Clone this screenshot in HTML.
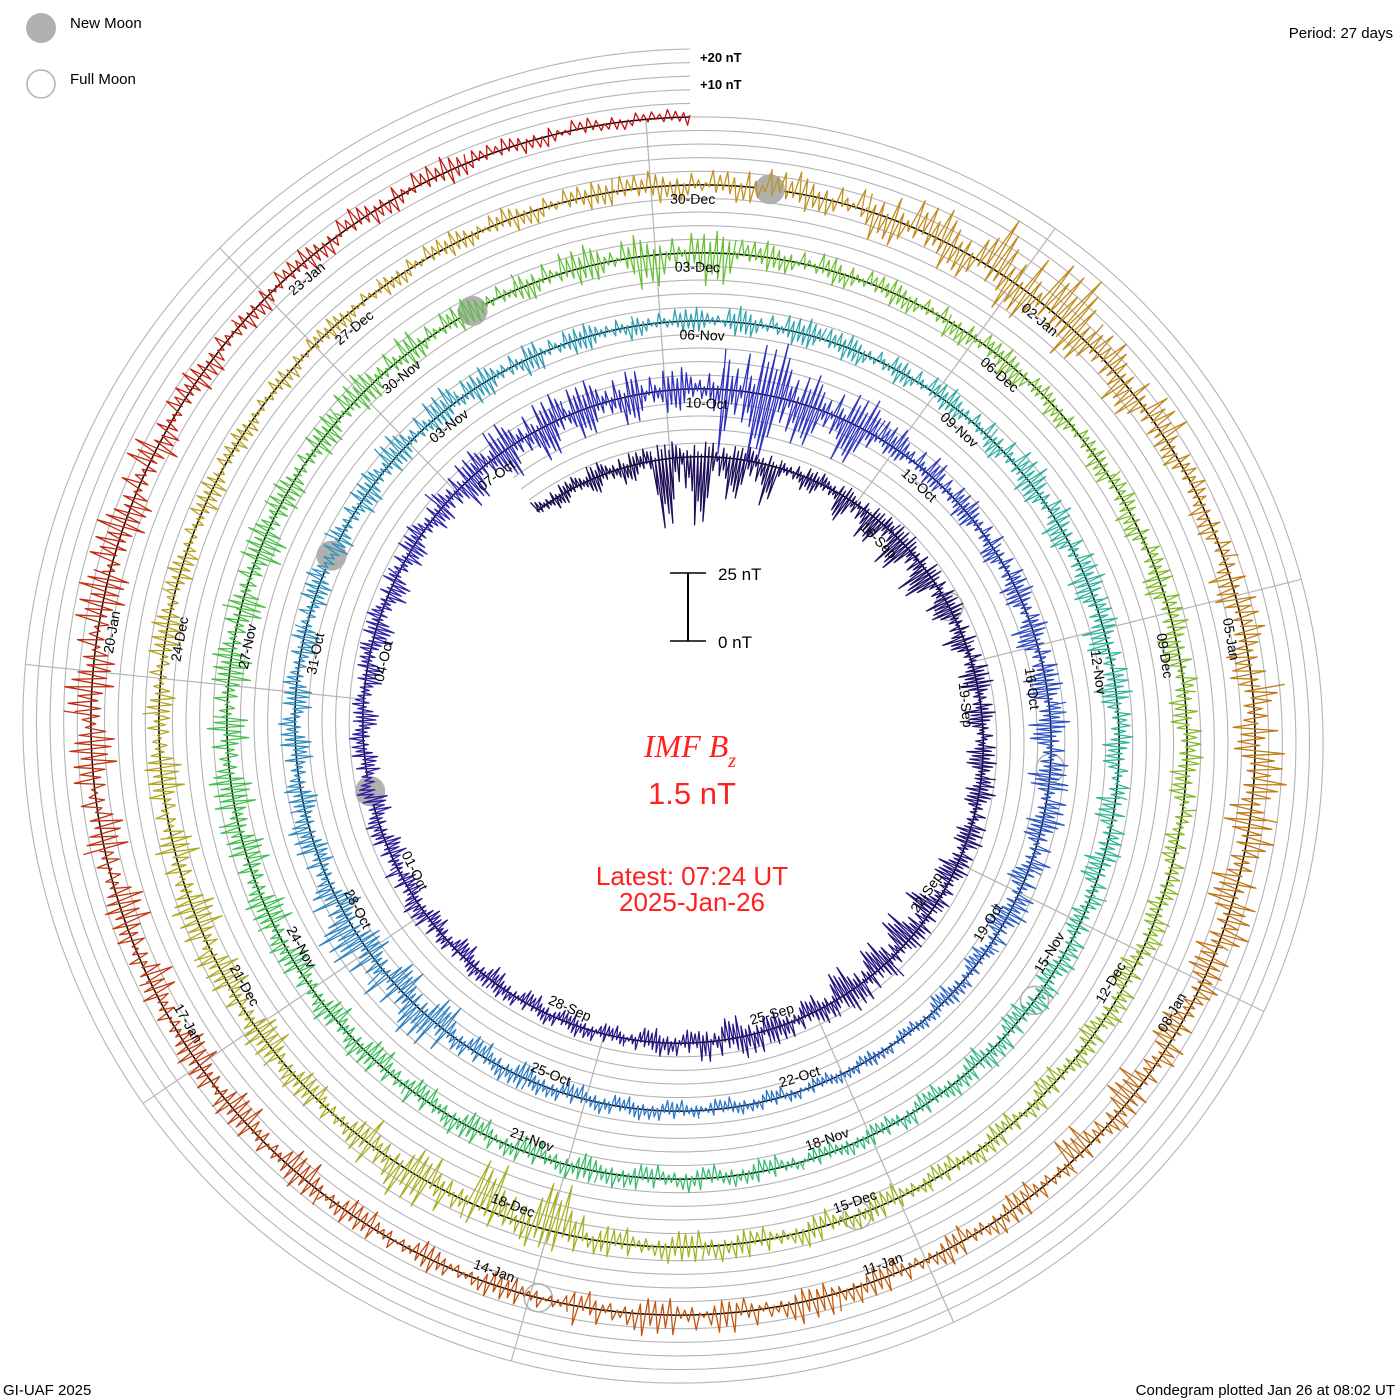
<!DOCTYPE html>
<html><head><meta charset="utf-8"><style>
html,body{margin:0;padding:0;background:#fff;}
svg{display:block;font-family:"Liberation Sans",sans-serif;}
</style></head><body>
<svg id="chart" width="1400" height="1400" viewBox="0 0 1400 1400" xmlns="http://www.w3.org/2000/svg">
<rect width="1400" height="1400" fill="#fff"/>
<g id="grid"></g>
<g id="radials"></g>
<g id="baseline"></g>
<g id="moons"></g>
<g id="traces"></g>
<g id="labels"></g>
<g>
<circle cx="41" cy="28" r="15" fill="#b0b0b0"/>
<text x="70" y="28" font-size="15" fill="#000">New Moon</text>
<circle cx="41" cy="84" r="14" fill="none" stroke="#b0b0b0" stroke-width="1.5"/>
<text x="70" y="84" font-size="15" fill="#000">Full Moon</text>
</g>
<text x="1393" y="38" font-size="15" text-anchor="end">Period: 27 days</text>
<text x="700" y="62" font-size="13" font-weight="bold">+20 nT</text>
<text x="700" y="89" font-size="13" font-weight="bold">+10 nT</text>
<g>
<line x1="688" y1="573" x2="688" y2="641" stroke="#000" stroke-width="2"/>
<line x1="670" y1="573" x2="706" y2="573" stroke="#000" stroke-width="1.5"/>
<line x1="670" y1="641" x2="706" y2="641" stroke="#000" stroke-width="1.5"/>
<text x="718" y="580" font-size="17">25 nT</text>
<text x="718" y="648" font-size="17">0 nT</text>
</g>
<text x="690" y="757" font-size="32" font-style="italic" font-family="Liberation Serif, serif" fill="#ff2020" text-anchor="middle">IMF B<tspan font-size="20" dy="10">z</tspan></text>
<text x="692" y="804" font-size="31" fill="#ff2020" text-anchor="middle">1.5 nT</text>
<text x="692" y="885" font-size="26" fill="#ff2020" text-anchor="middle">Latest: 07:24 UT</text>
<text x="692" y="911" font-size="26" fill="#ff2020" text-anchor="middle">2025-Jan-26</text>
<text x="3" y="1395" font-size="15">GI-UAF 2025</text>
<text x="1395" y="1395" font-size="15" text-anchor="end">Condegram plotted Jan 26 at 08:02 UT</text>
</svg>
<script>
// Daily Bz range (nT), one entry per day from start (~Sep 10 17 UT)
const dayLo = [-4,-6,-25,-15,-5,-10,-12,-8,-6,-6,-5,-7,-12,-10,-6,-8,-5,-4,-5,-6,-5,-6,-5,-6,-7,-6,-10,-12,-10,-8,-25,-15,-4,-5,-6,-8,-8,-6,-7,-5,-3,-3,-4,-4,-5,-6,-10,-8,-5,-6,-6,-5,-6,-5,-6,-5,-4,-5,-5,-4,-6,-7,-8,-6,-7,-5,-6,-5,-4,-5,-5,-6,-6,-7,-6,-8,-8,-8,-9,-6,-6,-5,-6,-12,-5,-5,-6,-5,-6,-7,-6,-5,-6,-6,-5,-6,-5,-6,-18,-10,-6,-8,-9,-8,-6,-5,-4,-4,-4,-5,-6,-6,-10,-12,-10,-6,-8,-8,-10,-8,-10,-6,-5,-5,-6,-5,-6,-8,-8,-10,-9,-8,-8,-6,-5,-5,-4,-3];
const dayHi = [4,5,6,5,4,4,5,5,6,5,6,5,5,8,6,8,5,4,4,4,6,5,5,4,5,6,8,10,10,8,20,12,8,6,6,6,7,8,7,4,3,3,3,4,4,5,12,14,8,6,5,6,6,8,6,5,5,6,5,6,8,7,6,5,6,6,6,5,4,4,5,5,6,6,6,7,8,7,7,6,8,6,8,8,6,5,5,4,5,6,6,5,6,5,5,5,6,6,8,12,6,7,8,6,6,5,4,4,5,5,6,8,12,20,10,5,8,12,10,7,6,6,6,8,8,5,5,6,6,6,8,10,10,6,5,6,4,3];
const newMoons = ["2024-10-02T18:49Z","2024-11-01T12:47Z","2024-12-01T06:21Z","2024-12-30T22:27Z"];
const fullMoons = ["2024-09-18T02:34Z","2024-10-17T11:26Z","2024-11-15T21:28Z","2024-12-15T09:02Z","2025-01-13T22:27Z"];
const monthNames = ["Jan","Feb","Mar","Apr","May","Jun","Jul","Aug","Sep","Oct","Nov","Dec"];

const NS="http://www.w3.org/2000/svg";
const cx=690, cy=733, R=616, P=68, S=2.72, PERIOD=27;
const DAY=864e5;
const tEnd = Date.UTC(2025,0,26,7,24)/DAY;
const tStart = tEnd - 137.6;
function pos(t, off){
  const a=(t-tEnd)/PERIOD*2*Math.PI;
  const r=R+(t-tEnd)/PERIOD*P+off;
  return [cx+r*Math.sin(a), cy-r*Math.cos(a)];
}
function mk(tag, attrs, parent){
  const e=document.createElementNS(NS,tag);
  for(const k in attrs) e.setAttribute(k,attrs[k]);
  parent.appendChild(e); return e;
}
function spiralPath(off){
  let d="";
  for(let t=tStart;t<=tEnd+1e-9;t+=0.05){const p=pos(t,off);d+=(d?"L":"M")+p[0].toFixed(1)+","+p[1].toFixed(1);}
  const p=pos(tEnd,off); d+="L"+p[0].toFixed(1)+","+p[1].toFixed(1);
  return d;
}
const grid=document.getElementById('grid');
for(let k=1;k<=5;k++){
  const g=mk('path',{d:spiralPath(k*5*S),fill:'none',stroke:'#b4b4b4','stroke-width':1.1},grid);
  
  
}
const bl=mk('path',{d:spiralPath(0),fill:'none',stroke:'#000','stroke-width':1.5},document.getElementById('baseline'));


const radials=document.getElementById('radials');
const jan26=Date.UTC(2025,0,26)/DAY;
for(let k=0;k<9;k++){
  let tl=jan26-3*k;
  let tf=tl; while(tf-PERIOD>=tStart) tf-=PERIOD;
  const rIn=R+(tf-tEnd)/PERIOD*P;
  const rOut=R+(tl-tEnd)/PERIOD*P+((tEnd-tl)>1?P:0);
  const a=(tl-tEnd)/PERIOD*2*Math.PI;
  const ln=mk('line',{x1:cx+rIn*Math.sin(a),y1:cy-rIn*Math.cos(a),x2:cx+rOut*Math.sin(a),y2:cy-rOut*Math.cos(a),stroke:'#b4b4b4','stroke-width':1.2},radials);
  
  
}
const moons=document.getElementById('moons');
newMoons.forEach(s=>{const t=Date.parse(s)/DAY;const p=pos(t,0);
  const c=mk('circle',{cx:p[0],cy:p[1],r:15,fill:'#b0b0b0'},moons);
  
  });
fullMoons.forEach(s=>{const t=Date.parse(s)/DAY;const p=pos(t,0);
  const c=mk('circle',{cx:p[0],cy:p[1],r:14,fill:'none',stroke:'#b0b0b0','stroke-width':1.5},moons);
  
  });
const stops=[[0,[28,12,80]],[0.15,[42,26,150]],[0.22,[48,48,192]],[0.3,[48,112,200]],[0.38,[48,150,192]],[0.45,[48,180,160]],[0.55,[64,192,80]],[0.62,[112,192,48]],[0.72,[168,176,32]],[0.8,[192,150,32]],[0.87,[192,112,16]],[0.93,[192,64,16]],[1,[192,16,16]]];
function col(f){
  for(let i=1;i<stops.length;i++){if(f<=stops[i][0]){const a=stops[i-1],b=stops[i];const u=(f-a[0])/(b[0]-a[0]);
    return 'rgb('+a[1].map((v,j)=>Math.round(v+(b[1][j]-v)*u)).join(',')+')';}}
  return 'rgb(192,16,16)';
}
const traces=document.getElementById('traces');
const hiF=[1,0.3,0.75,0.15,0.55,0.9,0.25,0.6,0.4,0.85,0.1,0.5,0.7];
const loF=[0.5,0.2,1,0.35,0.65,0.1,0.8,0.45,0.95,0.3,0.6];
const N=36;
let cnt=0;
for(let d=0;d<dayLo.length;d++){
  const t0=tStart+d; if(t0>=tEnd) break;
  let path="";
  for(let j=0;j<=N;j++){
    let t=t0+j/N; if(t>tEnd) t=tEnd;
    const dd=(j===N)?Math.min(d+1,dayLo.length-1):d;
    const jj=j%N;
    cnt++;
    const v=(jj%2===0)?dayHi[dd]*hiF[(d*7+jj)%hiF.length]:dayLo[dd]*loF[(d*5+jj)%loF.length];
    const p=pos(t,v*S);
    path+=(path?"L":"M")+p[0].toFixed(1)+","+p[1].toFixed(1);
    if(t>=tEnd) break;
  }
  const e=mk('path',{d:path,fill:'none',stroke:col((d+0.5)/137.6),'stroke-width':1.3,'stroke-linejoin':'round'},traces);
  
  
}
const labels=document.getElementById('labels');
for(let k=1;;k++){
  const tl=jan26-3*k; if(tl<tStart+3) break;
  const dt=new Date(tl*DAY);
  const txt=String(dt.getUTCDate()).padStart(2,'0')+'-'+monthNames[dt.getUTCMonth()];
  const rb=R+(tl-tEnd)/PERIOD*P;
  const ang=(tl-tEnd)/PERIOD*360 + (42/rb)*180/Math.PI;
  const r=rb-13;
  const a=ang*Math.PI/180;
  const x=cx+r*Math.sin(a), y=cy-r*Math.cos(a);
  let na=((ang%360)+360)%360;
  let rot=(na>90&&na<270)?na-180:na;
  const e=mk('text',{x:x,y:y,'font-size':14,'text-anchor':'middle','dominant-baseline':'central',transform:'rotate('+rot.toFixed(1)+' '+x.toFixed(1)+' '+y.toFixed(1)+')'},labels);
  e.textContent=txt;
  
  
}
</script>
</body></html>
